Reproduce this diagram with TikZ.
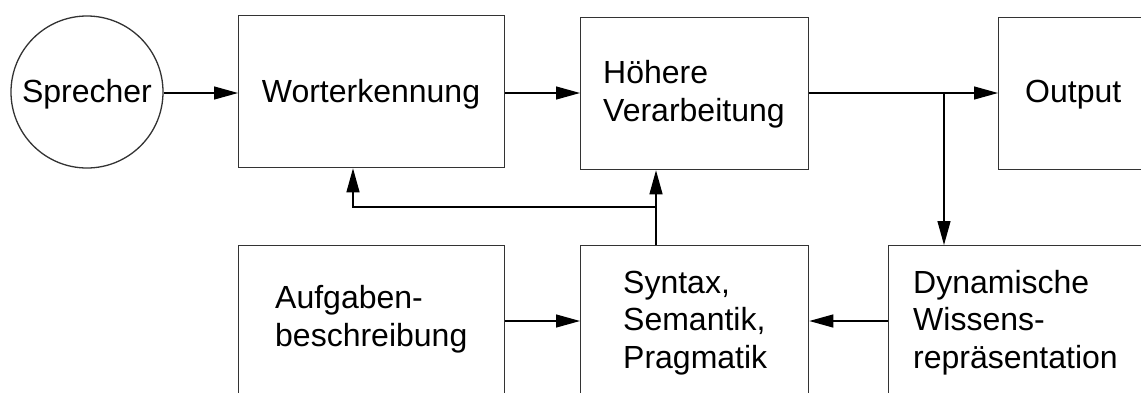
\documentclass[tikz,border=0pt]{standalone}
\usepackage{fontspec}
\setmainfont{Liberation Sans}
\usetikzlibrary{arrows.meta}
\begin{document}
\begin{tikzpicture}[x=1pt,y=-1pt,
  box/.style={draw=black!80, line width=1.3pt, rectangle, inner sep=0pt, anchor=north west},
  txt/.style={inner sep=0pt, anchor=base west, align=left, font=\fontsize{32}{37.5}\selectfont},
  conn/.style={line width=1.3pt, draw=black},
  arr/.style={conn, -{Triangle[length=24pt,width=13pt]}}]
\useasboundingbox (0,0) rectangle (1141,392);
\clip (0,0) rectangle (1141,392);
% nodes
\node[draw=black!80, line width=1.3pt, circle, minimum size=152pt, inner sep=0pt] (sprecher) at (87,92) {};
\node[box, minimum width=266pt, minimum height=152pt] (wort) at (238,15) {};
\node[box, minimum width=228pt, minimum height=152pt] (hoeh) at (580,17) {};
\node[box, minimum width=200pt, minimum height=152pt] (out) at (998,17) {};
\node[box, minimum width=266pt, minimum height=200pt] (aufg) at (238,245) {};
\node[box, minimum width=228pt, minimum height=200pt] (syn) at (580,245) {};
\node[box, minimum width=300pt, minimum height=200pt] (dyn) at (888,245) {};
% texts (base anchor = baseline of last line)
\node[txt, anchor=base] (tspr) at (87,102) {Sprecher};
\node[txt, anchor=base] (twort) at (371,102) {Worterkennung};
\node[txt] (thoeh) at (603,121) {Höhere\\Verarbeitung};
\node[txt] (tout) at (1025,102) {Output};
\node[txt] (taufg) at (275,346) {Aufgaben-\\beschreibung};
\node[txt] (tsyn) at (623,368) {Syntax,\\Semantik,\\Pragmatik};
\node[txt] (tdyn) at (913,368) {Dynamische\\Wissens-\\repräsentation};
% helper coordinates
\coordinate (row1) at (0,93);
\coordinate (row2) at (0,321);
\coordinate (br) at (944,93);
\coordinate (j) at (656,207);
\coordinate (fb) at (353,207);
% connectors
\draw[arr] (sprecher.east |- row1) -- (wort.west |- row1);
\draw[arr] (wort.east |- row1) -- (hoeh.west |- row1);
\draw[arr] (hoeh.east |- row1) -- (out.west |- row1);
\draw[arr] (br) -- (dyn.north -| br);
\draw[conn] (syn.north -| j) -- (j);
\draw[arr] (j) -- (hoeh.south -| j);
\draw[arr] (j) -- (fb) -- (wort.south -| fb);
\draw[arr] (aufg.east |- row2) -- (syn.west |- row2);
\draw[arr] (dyn.west |- row2) -- (syn.east |- row2);
\end{tikzpicture}
\end{document}
